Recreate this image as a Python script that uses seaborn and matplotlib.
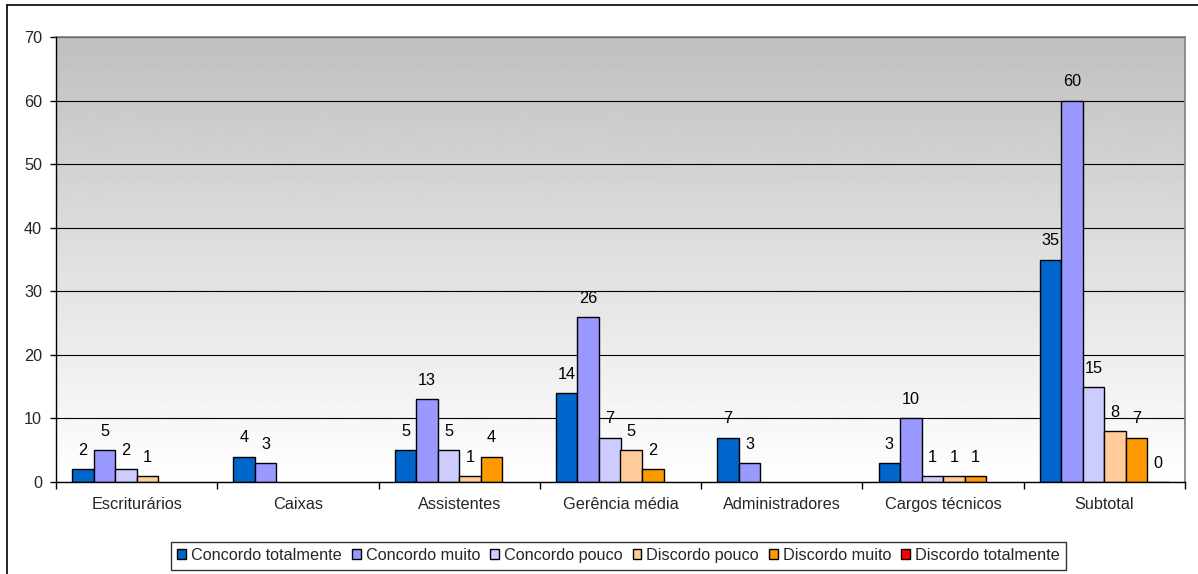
import numpy as np
import pandas as pd
import matplotlib
matplotlib.use("Agg")
import matplotlib.pyplot as plt
from matplotlib.patches import Patch
from matplotlib.lines import Line2D
import seaborn as sns

# Categories, response series and counts (None = no answer recorded)
categorias = ["Escriturários", "Caixas", "Assistentes", "Gerência média",
              "Administradores", "Cargos técnicos", "Subtotal"]
series = ["Concordo totalmente", "Concordo muito", "Concordo pouco",
          "Discordo pouco", "Discordo muito", "Discordo totalmente"]
concordo_totalmente = [2, 4, 5, 14, 7, 3, 35]
concordo_muito = [5, 3, 13, 26, 3, 10, 60]
concordo_pouco = [2, None, 5, 7, None, 1, 15]
discordo_pouco = [1, None, 1, 5, None, 1, 8]
discordo_muito = [None, None, 4, 2, None, 1, 7]
discordo_totalmente = [None, None, None, None, None, None, 0]
cores = ["#0066CC", "#9999FF", "#CCCCFF", "#FFCC99", "#FF9900", "#FF0000"]

valores = [concordo_totalmente, concordo_muito, concordo_pouco,
           discordo_pouco, discordo_muito, discordo_totalmente]
rows = []
for s, vals in zip(series, valores):
    for c, v in zip(categorias, vals):
        rows.append({"categoria": c, "serie": s,
                     "valor": np.nan if v is None else v})
df = pd.DataFrame(rows)

sns.set_theme(style="white")
plt.rcParams["font.family"] = ["Liberation Sans", "DejaVu Sans"]
FS = 11.7

W, H = 1198, 574
fig = plt.figure(figsize=(W / 100, H / 100), dpi=100)
ax = fig.add_axes([56 / W, (H - 482) / H, (1185 - 56) / W, (482 - 37) / H])

sns.barplot(data=df, x="categoria", y="valor", hue="serie",
            order=categorias, hue_order=series, palette=cores,
            saturation=1, edgecolor="black", linewidth=1.0,
            errorbar=None, legend=False, width=0.8, ax=ax, zorder=2)

for cont in ax.containers:
    ax.bar_label(cont, fmt="%g", padding=8, fontsize=FS, color="black")

# Gray-to-white vertical gradient behind the plot area
ax.set_xlim(-0.5, len(categorias) - 0.5)
ax.set_ylim(0, 70)
grad = np.linspace(1.0, 192 / 255, 256).reshape(-1, 1)
ax.imshow(grad, extent=[-0.5, len(categorias) - 0.5, 0, 70], origin="lower",
          aspect="auto", cmap="gray", vmin=0, vmax=1, zorder=0)
ax.set_xlim(-0.5, len(categorias) - 0.5)
ax.set_ylim(0, 70)

ax.set_yticks(range(0, 71, 10))
ax.yaxis.grid(True, color="black", linewidth=0.8, zorder=1)
ax.xaxis.grid(False)
ax.set_xlabel("")
ax.set_ylabel("")

ax.tick_params(axis="y", which="major", direction="out", length=4,
               width=1, color="black", pad=6, labelsize=FS, left=True)
ax.set_xticks(range(len(categorias)))
ax.set_xticklabels(categorias)
ax.set_xticks(np.arange(-0.5, len(categorias)), minor=True)
ax.tick_params(axis="x", which="major", length=0, pad=11, labelsize=FS)
ax.tick_params(axis="x", which="minor", direction="out", length=5,
               width=1, color="black", bottom=True)

for side in ["left", "bottom"]:
    ax.spines[side].set_color("black")
    ax.spines[side].set_linewidth(1.0)
for side in ["top", "right"]:
    ax.spines[side].set_color("#808080")
    ax.spines[side].set_linewidth(1.2)
ax.spines["left"].set_zorder(3)
ax.spines["bottom"].set_zorder(3)

handles = [Patch(facecolor=c, edgecolor="black", linewidth=1.0) for c in cores]
leg = fig.legend(handles, series, loc="center", ncol=6,
                 bbox_to_anchor=(618.5 / W, 1 - 555.5 / H),
                 frameon=True, fancybox=False, shadow=False, fontsize=FS,
                 handlelength=0.55, handleheight=0.55, handletextpad=0.3,
                 columnspacing=0.62, borderpad=0.4, borderaxespad=0)
leg.get_frame().set_edgecolor("black")
leg.get_frame().set_linewidth(1.0)

# Chart frame (left and top edges)
fig.add_artist(Line2D([7 / W, 7 / W], [0, 1 - 5 / H], color="black", linewidth=1.2))
fig.add_artist(Line2D([7 / W, 1], [1 - 5 / H, 1 - 5 / H], color="black", linewidth=1.2))

fig.savefig("out.png", dpi=100, facecolor="white")
